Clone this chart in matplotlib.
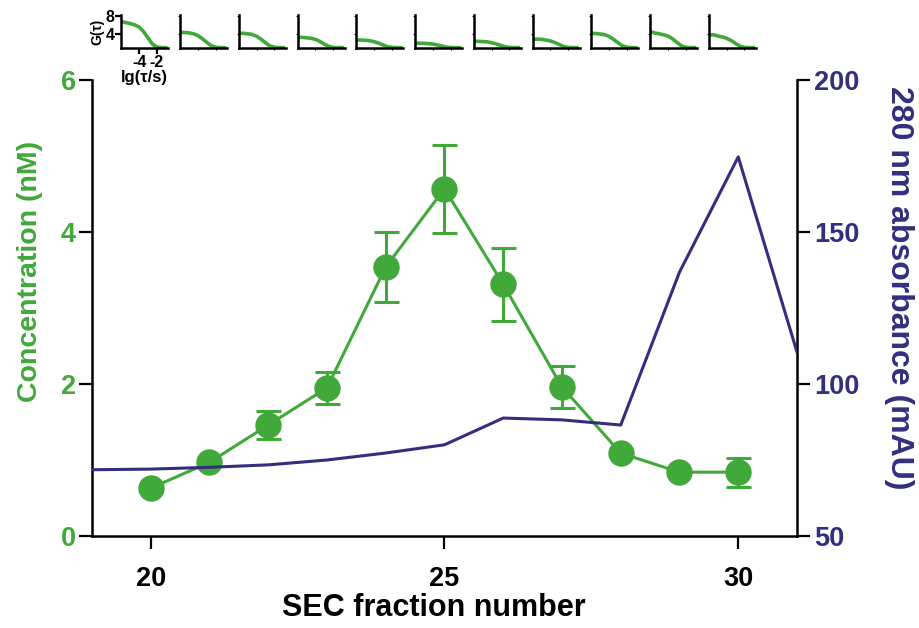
import numpy as np
import matplotlib
matplotlib.use("Agg")
import matplotlib.pyplot as plt
import matplotlib.transforms as mtransforms

green = "#41a83a"
purple = "#332e7e"

# SEC fractions and FCS concentration (left axis)
fractions = [20, 21, 22, 23, 24, 25, 26, 27, 28, 29, 30]
conc = [0.63, 0.97, 1.46, 1.95, 3.54, 4.57, 3.31, 1.96, 1.09, 0.84, 0.84]
conc_err = [0.0, 0.0, 0.19, 0.21, 0.46, 0.58, 0.48, 0.28, 0.0, 0.0, 0.19]

# 280 nm absorbance trace (right axis)
abs_frac = [19, 20, 21, 22, 23, 24, 25, 26, 27, 28, 29, 30, 31]
abs_mau = [71.8, 72.0, 72.6, 73.4, 75.0, 77.3, 80.0, 88.8, 88.2, 86.5, 136.8, 174.7, 110.5]

# autocorrelation insets, one per fraction
lg_tau = [-6, -5.5, -5, -4.5, -4, -3.5, -3, -2.5, -2, -1.5, -1]
g_curves = [
    [6.8, 6.6, 6.4, 6.1, 5.6, 4.6, 3.2, 1.8, 1.15, 1.0, 1.0],
    [4.4, 4.4, 4.3, 4.1, 3.7, 3.0, 2.2, 1.45, 1.1, 1.0, 1.0],
    [4.2, 4.2, 4.1, 3.95, 3.55, 2.9, 2.1, 1.4, 1.1, 1.0, 1.0],
    [3.3, 3.3, 3.2, 3.1, 2.85, 2.4, 1.8, 1.3, 1.05, 1.0, 1.0],
    [2.7, 2.7, 2.65, 2.55, 2.35, 2.0, 1.6, 1.2, 1.05, 1.0, 1.0],
    [2.0, 2.0, 1.95, 1.9, 1.8, 1.6, 1.35, 1.12, 1.03, 1.0, 1.0],
    [2.4, 2.4, 2.35, 2.3, 2.1, 1.85, 1.5, 1.2, 1.05, 1.0, 1.0],
    [2.9, 2.9, 2.85, 2.7, 2.5, 2.15, 1.7, 1.25, 1.05, 1.0, 1.0],
    [4.2, 4.15, 4.05, 3.9, 3.5, 2.85, 2.1, 1.4, 1.1, 1.0, 1.0],
    [4.6, 4.3, 4.1, 3.9, 3.6, 3.0, 2.2, 1.45, 1.1, 1.0, 1.0],
    [3.8, 3.9, 3.6, 3.4, 3.1, 2.6, 1.95, 1.35, 1.05, 1.0, 1.0],
]

plt.rcParams['font.family'] = ['Liberation Sans', 'DejaVu Sans']
plt.rcParams['font.weight'] = 'bold'
plt.rcParams['axes.unicode_minus'] = False

fig = plt.figure(figsize=(9.2, 6.28), dpi=100)
ax = fig.add_axes([0.1, 0.1465, 0.7663, 0.7261])
ax2 = ax.twinx()

# concentration
f = np.array(fractions)
c = np.array(conc)
e = np.array(conc_err)
m = e > 0
ax.errorbar(f[m], c[m], yerr=e[m], fmt='none', ecolor=green, elinewidth=2.2,
            capsize=9, capthick=2.2, zorder=2)
ax.plot(f, c, '-o', color=green, lw=2.2, ms=18, zorder=3)

# absorbance
ax2.plot(abs_frac, abs_mau, color=purple, lw=2.2, zorder=4)

ax.set_xlim(19, 31)
ax.set_ylim(0, 6)
ax2.set_ylim(50, 200)
ax.set_xticks([20, 25, 30])
ax.set_yticks([0, 2, 4, 6])
ax2.set_yticks([50, 100, 150, 200])

for a in (ax, ax2):
    a.spines['top'].set_visible(False)
    for s in a.spines.values():
        s.set_linewidth(1.8)
        s.set_color('black')
ax.spines['right'].set_visible(False)
ax2.spines['left'].set_visible(False)
ax2.spines['bottom'].set_visible(False)

ax.tick_params(axis='y', length=9.5, width=1.6, labelsize=19.5, labelcolor=green, pad=2)
ax.tick_params(axis='x', length=9.5, width=1.6, labelsize=19.5, pad=12)
ax2.tick_params(axis='y', length=9.5, width=1.6, labelsize=19.5, labelcolor=purple, pad=3)

ax.set_ylabel('Concentration (nM)', color=green, fontsize=20.5, fontweight='bold')
ax.yaxis.set_label_coords(-0.07, 0.58)
ax2.set_ylabel('280 nm absorbance (mAU)', color=purple, fontsize=23,
               fontweight='bold', rotation=270, va='center')
ax2.yaxis.set_label_coords(1.145, 0.545)
ax.set_xlabel('SEC fraction number', fontsize=22, fontweight='bold')
ax.xaxis.set_label_coords(0.485, -0.125)

# insets placed above each fraction
trans = mtransforms.blended_transform_factory(ax.transData, ax.transAxes)
for i, (fr, g) in enumerate(zip(fractions, g_curves)):
    ins = ax.inset_axes([fr - 0.5, 1.07, 0.8, 0.0725], transform=trans)
    ins.plot(lg_tau, g, color=green, lw=2.6)
    ins.set_xlim(-6, -0.7)
    ins.set_ylim(0.9, 8.3)
    ins.spines['top'].set_visible(False)
    ins.spines['right'].set_visible(False)
    for s in ('left', 'bottom'):
        ins.spines[s].set_linewidth(1.8)
    ins.set_xticks([-4, -2])
    ins.set_yticks([4, 8])
    ins.patch.set_alpha(0)
    if i == 0:
        ins.tick_params(length=4, width=1.6, labelsize=11.5, pad=1)
        ins.set_xlabel('lg(\u03c4/s)', fontsize=12, fontweight='bold', labelpad=0)
        ins.set_ylabel('G(\u03c4)', fontsize=10, fontweight='bold', labelpad=1)
    else:
        ins.tick_params(length=1.5, width=0.8, labelbottom=False, labelleft=False)

fig.savefig('out.png', dpi=100)
